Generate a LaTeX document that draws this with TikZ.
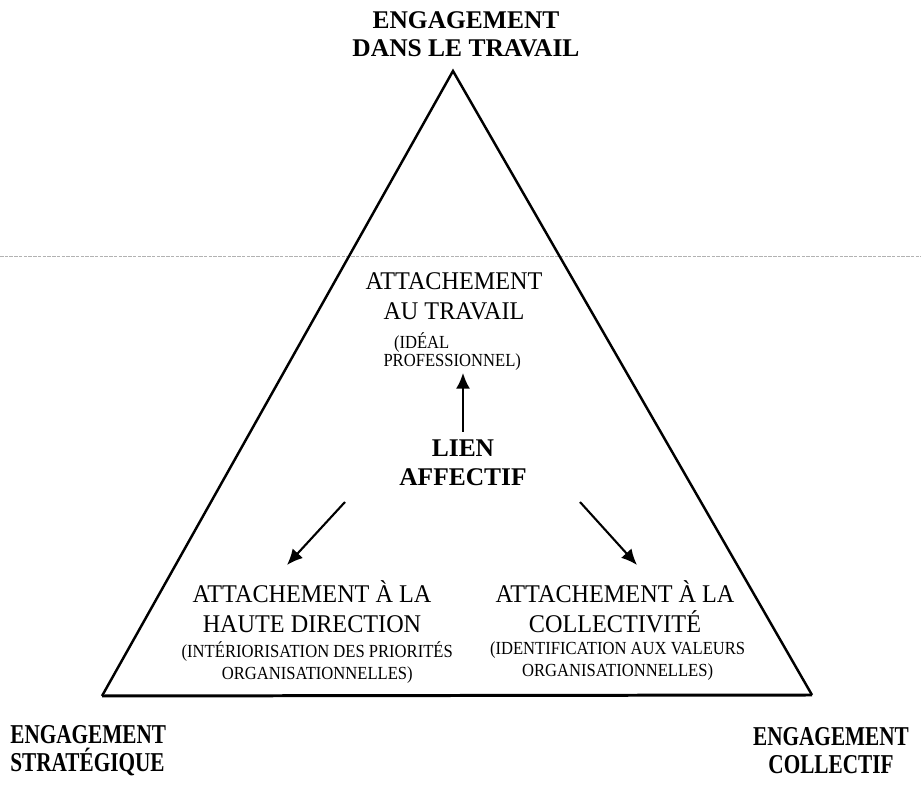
\documentclass[tikz,border=0pt]{standalone}
\usepackage{fontspec}
\setmainfont{Liberation Serif}
\newfontfamily\etroit[FakeStretch=0.95]{Liberation Serif}
\newfontfamily\petit[FakeStretch=0.9]{Liberation Serif}
\newfontfamily\serre[FakeStretch=0.78]{Liberation Serif}
\usetikzlibrary{arrows.meta,positioning}

\tikzset{
  titre/.style={font=\fontsize{14.5}{16}\selectfont\bfseries, align=center},
  pole/.style={font=\serre\fontsize{15.5}{16}\selectfont\bfseries, align=center},
  attache/.style={font=\etroit\fontsize{14.5}{17}\selectfont, align=center},
  precision/.style={font=\petit\fontsize{10.5}{12.5}\selectfont, align=center},
  noyau/.style={font=\fontsize{14.5}{16.5}\selectfont\bfseries, align=center},
  fleche/.style={line width=1.2pt, -{Latex[length=9pt,width=8pt]}},
}

\begin{document}
\begin{tikzpicture}[x=0.02cm, y=-0.02cm]
\tikzstyle{every node}+=[inner sep=0pt]
\useasboundingbox (0,0) rectangle (921,790);
% trace de numerisation
\draw [gray!60, dash pattern=on 2pt off 0.7pt, line width=0.5pt] (0,256) -- (921,256);
% triangle
\coordinate (sommet) at (453,71);
\coordinate (gauche) at (102,696);
\coordinate (droite) at (812,695);
\draw [line width=1.4pt, line join=miter] (gauche) -- (sommet) -- (droite);
\draw [line width=1.7pt] (gauche) -- (droite);
% poles
\node (travail) [titre] at (466,34) {ENGAGEMENT\\DANS LE TRAVAIL};
\node (strategique) [pole, anchor=west, align=left] at (10,751) {ENGAGEMENT\\STRAT\'EGIQUE};
\node (collectif) [pole] at (831,751) {ENGAGEMENT\\COLLECTIF};
% attachements
\node (autravail) [attache] at (454,296) {ATTACHEMENT\\AU TRAVAIL};
\node (ideal) [precision, font=\petit\fontsize{10.5}{10.5}\selectfont, align=left, below=7pt of autravail, xshift=-1pt] {\hspace{6pt}(ID\'EAL\\PROFESSIONNEL)};
\node (direction) [attache] at (312,607) {ATTACHEMENT \`A LA\\HAUTE DIRECTION};
\node (priorites) [precision, below=4.5pt of direction, xshift=3pt] {(INT\'ERIORISATION DES PRIORIT\'ES\\ORGANISATIONNELLES)};
\node (collectivite) [attache] at (615,607) {ATTACHEMENT \`A LA\\COLLECTIVIT\'E};
\node (valeurs) [precision, below=4.5pt of collectivite, xshift=1.5pt] {(IDENTIFICATION AUX VALEURS\\ORGANISATIONNELLES)};
% lien affectif
\node (lien) [noyau] at (463,463) {LIEN\\AFFECTIF};
\coordinate (g1) at (345,502);
\coordinate (g2) at (287,565);
\coordinate (d1) at (580,502);
\coordinate (d2) at (637,565);
\draw [fleche, shorten <=4.5pt, shorten >=1pt] (lien.north) -- (lien.north |- ideal.south);
\draw [fleche] (g1) -- (g2);
\draw [fleche] (d1) -- (d2);
\end{tikzpicture}
\end{document}
